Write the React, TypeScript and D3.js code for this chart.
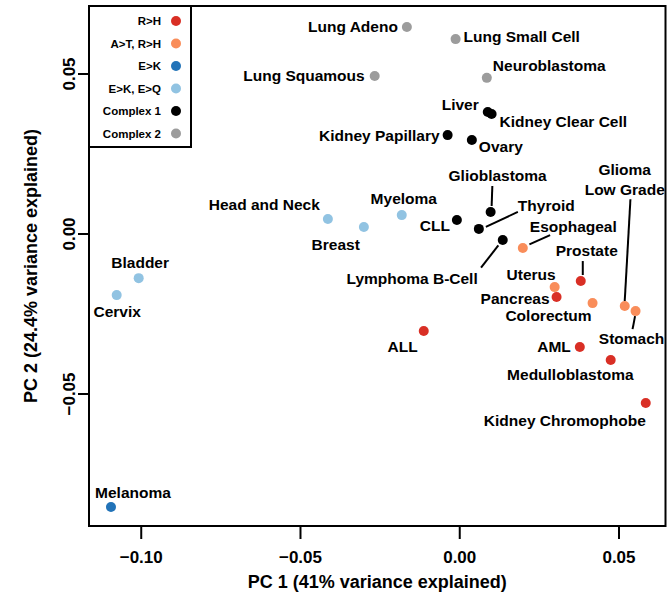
import React, { useEffect, useRef } from 'react';
import * as d3 from 'd3';

// tumour types, PC scores
const tumors = [
  'Lung Adeno', 'Lung Small Cell', 'Lung Squamous', 'Neuroblastoma',
  'Liver', 'Kidney Clear Cell', 'Kidney Papillary', 'Ovary',
  'Glioblastoma', 'CLL', 'Thyroid', 'Lymphoma B-Cell',
  'Esophageal', 'Head and Neck', 'Breast', 'Myeloma',
  'Bladder', 'Cervix', 'Melanoma', 'ALL',
  'Prostate', 'Uterus', 'Pancreas', 'Colorectum',
  'Glioma Low Grade', 'Stomach', 'AML', 'Medulloblastoma',
  'Kidney Chromophobe'
];
const pc1 = [
  -0.0166, -0.0013, -0.0267, 0.0085,
  0.0088, 0.0100, -0.0038, 0.0038,
  0.0097, -0.0009, 0.0060, 0.0135,
  0.0198, -0.0414, -0.0301, -0.0182,
  -0.1008, -0.1077, -0.1095, -0.0113,
  0.0380, 0.0298, 0.0304, 0.0417,
  0.0518, 0.0552, 0.0377, 0.0474,
  0.0584
];
const pc2 = [
  0.0647, 0.0609, 0.0494, 0.0488,
  0.0381, 0.0375, 0.0309, 0.0294,
  0.0069, 0.0044, 0.0016, -0.0019,
  -0.0044, 0.0047, 0.0022, 0.0059,
  -0.0138, -0.0191, -0.0853, -0.0303,
  -0.0147, -0.0166, -0.0197, -0.0216,
  -0.0225, -0.0241, -0.0353, -0.0394,
  -0.0528
];
// index into signatureGroups
const tumorGroup = [
  5, 5, 5, 5,
  4, 4, 4, 4,
  4, 4, 4, 4,
  1, 3, 3, 3,
  3, 3, 2, 0,
  0, 1, 0, 1,
  1, 1, 0, 0,
  0
];
const signatureGroups = ['R>H', 'A>T, R>H', 'E>K', 'E>K, E>Q', 'Complex 1', 'Complex 2'];
const xTicks = [-0.10, -0.05, 0.00, 0.05];
const yTicks = [-0.05, 0.00, 0.05];

const groupColors = ['#d92f25', '#f98d5a', '#2273b8', '#91c3e2', '#000000', '#9c9c9c'];

// label placement relative to the point (px), plus optional leader line
const labelLayout: Record<string, any> = {
  'Lung Adeno': { dx: -9, dy: 0, anchor: 'end' },
  'Lung Small Cell': { dx: 8, dy: -3, anchor: 'start' },
  'Lung Squamous': { dx: -10, dy: 0, anchor: 'end' },
  'Neuroblastoma': { dx: 6, dy: -12, anchor: 'start' },
  'Liver': { dx: -9, dy: -8, anchor: 'end' },
  'Kidney Clear Cell': { dx: 8, dy: 8, anchor: 'start' },
  'Kidney Papillary': { dx: -8, dy: 0, anchor: 'end' },
  'Ovary': { dx: 7, dy: 7, anchor: 'start' },
  'Glioblastoma': { dx: 7, dy: -36, anchor: 'middle', line: [1.7, -26, 1, -6] },
  'CLL': { dx: -7, dy: 6, anchor: 'end' },
  'Thyroid': { dx: 39, dy: -23, anchor: 'start', line: [7, -2, 39, -17] },
  'Lymphoma B-Cell': { dx: -25, dy: 38, anchor: 'end', line: [-21.7, 27.6, -4.4, 5.3] },
  'Esophageal': { dx: 7, dy: -22, anchor: 'start', line: [6.6, -3.7, 27.3, -13] },
  'Head and Neck': { dx: -8, dy: -14, anchor: 'end' },
  'Breast': { dx: -4, dy: 18, anchor: 'end' },
  'Myeloma': { dx: 2, dy: -17, anchor: 'middle' },
  'Bladder': { dx: 1.5, dy: -16, anchor: 'middle' },
  'Cervix': { dx: 0.5, dy: 16, anchor: 'middle' },
  'Melanoma': { dx: 22, dy: -14, anchor: 'middle' },
  'ALL': { dx: -6, dy: 16, anchor: 'end' },
  'Prostate': { dx: 6, dy: -30, anchor: 'middle', line: [2, -20, 2, -6] },
  'Uterus': { dx: 1, dy: -13, anchor: 'end' },
  'Pancreas': { dx: -7, dy: 2, anchor: 'end' },
  'Colorectum': { dx: -1, dy: 12, anchor: 'end' },
  'Glioma Low Grade': { dx: 0, dy: -136, anchor: 'middle', lines2: ['Glioma', 'Low Grade'], line: [5.7, -106.7, 0, -5] },
  'Stomach': { dx: -4, dy: 27, anchor: 'middle', line: [-0.5, 5, -3, 18] },
  'AML': { dx: -9, dy: 0, anchor: 'end' },
  'Medulloblastoma': { dx: 23, dy: 14, anchor: 'end' },
  'Kidney Chromophobe': { dx: 0, dy: 18, anchor: 'end' }
};

const W = 670, H = 596;
const FONT = "'Liberation Sans', Arial, Helvetica, sans-serif";

export default function App() {
  const svgRef = useRef<SVGSVGElement>(null);

  useEffect(() => {
    if (!svgRef.current) return;
    const svg = d3.select(svgRef.current);
    svg.selectAll('*').remove();

    const left = 89, right = 665.5, top = 6, bottom = 526;
    const x = d3.scaleLinear().domain([-0.1164, 0.0646]).range([left, right]);
    const y = d3.scaleLinear().domain([-0.09125, 0.07125]).range([bottom, top]);

    const g = svg.append('g').style('font-family', FONT).style('font-weight', 'bold');

    // axes
    g.selectAll('.xtick').data(xTicks).enter().append('line')
      .attr('x1', d => x(d)).attr('x2', d => x(d))
      .attr('y1', bottom).attr('y2', bottom + 13)
      .attr('stroke', '#000').attr('stroke-width', 2);
    g.selectAll('.xlab').data(xTicks).enter().append('text')
      .attr('x', d => x(d)).attr('y', 563)
      .attr('text-anchor', 'middle').style('font-size', '17px')
      .text(d => d3.format('.2f')(d).replace('-', '\u2212'));

    g.selectAll('.ytick').data(yTicks).enter().append('line')
      .attr('x1', left - 11).attr('x2', left)
      .attr('y1', d => y(d)).attr('y2', d => y(d))
      .attr('stroke', '#000').attr('stroke-width', 2);
    g.selectAll('.ylab').data(yTicks).enter().append('text')
      .attr('transform', d => `translate(75,${y(d)}) rotate(-90)`)
      .attr('text-anchor', 'middle').style('font-size', '17px')
      .text(d => d3.format('.2f')(d).replace('-', '\u2212'));

    g.append('text')
      .attr('x', (left + right) / 2).attr('y', 588)
      .attr('text-anchor', 'middle').style('font-size', '18px')
      .text('PC 1 (41% variance explained)');
    g.append('text')
      .attr('transform', `translate(37,${(top + bottom) / 2}) rotate(-90)`)
      .attr('text-anchor', 'middle').style('font-size', '18px')
      .text('PC 2 (24.4% variance explained)');

    // points
    g.selectAll('.pt').data(tumors).enter().append('circle')
      .attr('cx', (d, i) => x(pc1[i])).attr('cy', (d, i) => y(pc2[i]))
      .attr('r', 5)
      .attr('fill', (d, i) => groupColors[tumorGroup[i]]);

    // labels + leader lines
    tumors.forEach((name, i) => {
      const L = labelLayout[name];
      const px = x(pc1[i]), py = y(pc2[i]);
      if (L.line) {
        g.append('line')
          .attr('x1', px + L.line[0]).attr('y1', py + L.line[1])
          .attr('x2', px + L.line[2]).attr('y2', py + L.line[3])
          .attr('stroke', '#000').attr('stroke-width', 2);
      }
      const parts = L.lines2 || [name];
      parts.forEach((t: string, k: number) => {
        g.append('text')
          .attr('x', px + L.dx).attr('y', py + L.dy + k * 19.5)
          .attr('dy', '0.35em')
          .attr('text-anchor', L.anchor)
          .style('font-size', '15.5px')
          .text(t);
      });
    });

    // legend
    const lg = g.append('g');
    lg.append('rect')
      .attr('x', left).attr('y', top).attr('width', 191 - left).attr('height', 147 - top)
      .attr('fill', '#fff').attr('stroke', '#000').attr('stroke-width', 2);
    signatureGroups.forEach((s, k) => {
      const ly = 21 + k * 22.5;
      lg.append('text')
        .attr('x', 161).attr('y', ly).attr('dy', '0.35em')
        .attr('text-anchor', 'end').style('font-size', '11.5px')
        .text(s);
      lg.append('circle')
        .attr('cx', 176).attr('cy', ly).attr('r', 5)
        .attr('fill', groupColors[k]);
    });

    // plot frame
    g.append('rect')
      .attr('x', left).attr('y', top).attr('width', right - left).attr('height', bottom - top)
      .attr('fill', 'none').attr('stroke', '#000').attr('stroke-width', 2);
  }, []);

  return (
    <svg ref={svgRef} width={W} height={H}
      style={{ position: 'absolute', left: 0, top: 0, background: '#fff' }} />
  );
}
